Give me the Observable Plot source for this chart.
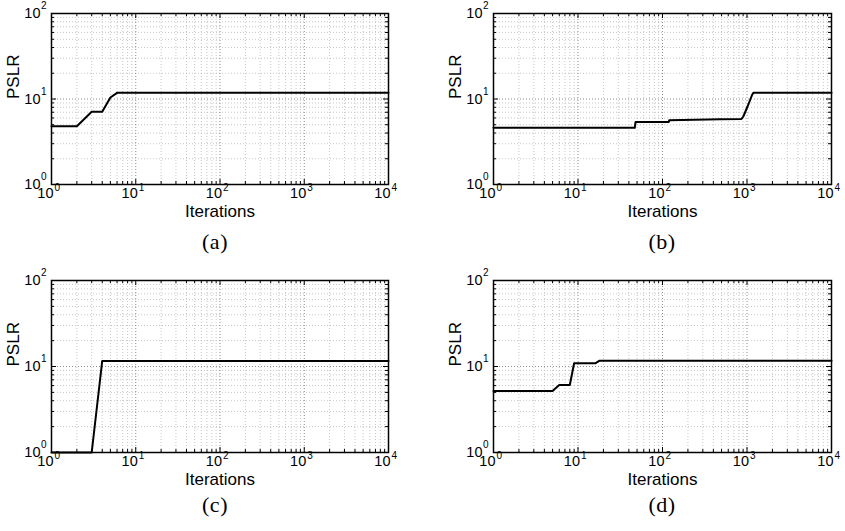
<!DOCTYPE html>
<html>
<head>
<meta charset="utf-8">
<script src="https://cdn.jsdelivr.net/npm/d3@7"></script>
<script src="https://cdn.jsdelivr.net/npm/@observablehq/plot@0.6"></script>
<style>
  html, body { margin: 0; padding: 0; background: #fff; }
  #wrap { position: relative; width: 845px; height: 531px; background: #fff; overflow: hidden; }
  .panel { position: absolute; }
  .cap { position: absolute; font-family: "Liberation Serif", "Times New Roman", serif; font-size: 22px; color: #000; transform: translate(-50%, -50%); white-space: nowrap; letter-spacing: 0.5px; }
</style>
</head>
<body>
<div id="wrap"></div>
<script>
// ---- data ----
const iterA = [1, 2, 3, 4, 5, 6, 10000];
const pslrA = [4.8, 4.8, 7.1, 7.1, 10.4, 11.8, 11.8];

const iterB = [1, 47, 48, 119, 120, 480, 860, 900, 950, 1000, 1050, 1100, 1150, 1190, 10000];
const pslrB = [4.6, 4.6, 5.4, 5.4, 5.65, 5.8, 5.85, 6.2, 7.0, 7.9, 8.9, 10.0, 11.2, 11.8, 11.8];

const iterC = [1, 3, 4, 10000];
const pslrC = [1, 1, 11.6, 11.6];

const iterD = [1, 5, 6, 8, 9, 16, 18, 10000];
const pslrD = [5.2, 5.2, 6.1, 6.1, 10.9, 10.9, 11.7, 11.7];

// ---- ticks ----
const xMajor = [1, 10, 100, 1000, 10000];
const xExp = ["0", "1", "2", "3", "4"];
const xMinor = [2,3,4,5,6,7,8,9, 20,30,40,50,60,70,80,90, 200,300,400,500,600,700,800,900, 2000,3000,4000,5000,6000,7000,8000,9000];
const yMajor = [1, 10, 100];
const yExp = ["0", "1", "2"];
const yMinor = [2,3,4,5,6,7,8,9, 20,30,40,50,60,70,80,90];

const xLabel = "Iterations";
const yLabel = "PSLR";
const captions = ["(a)", "(b)", "(c)", "(d)"];

const FONT = "'Liberation Sans', Arial, Helvetica, sans-serif";

function panel(iters, vals, {width, height, ml, mr, mt, mb}) {
  const data = iters.map((x, i) => ({x, y: vals[i]}));
  const xT = xMajor.map((v, i) => ({v, e: xExp[i]}));
  const yT = yMajor.map((v, i) => ({v, e: yExp[i]}));
  const ph = height - mt - mb;
  const pw = width - ml - mr;
  const majorGrid = {stroke: "#6f6f6f", strokeDasharray: "1,2", strokeWidth: 0.8};
  const minorGrid = {stroke: "#b8b8b8", strokeDasharray: "1,2", strokeWidth: 0.8};
  return Plot.plot({
    width, height,
    marginLeft: ml, marginRight: mr, marginTop: mt, marginBottom: mb,
    style: {fontFamily: FONT, background: "#fff", color: "#000", overflow: "visible"},
    x: {type: "log", domain: [1, 10000], axis: null},
    y: {type: "log", domain: [1, 100], axis: null},
    marks: [
      // grid
      Plot.ruleX(xMinor, {x: d => d, ...minorGrid}),
      Plot.ruleY(yMinor, {y: d => d, ...minorGrid}),
      Plot.ruleX(xMajor.slice(1, -1), {x: d => d, ...majorGrid}),
      Plot.ruleY(yMajor.slice(1, -1), {y: d => d, ...majorGrid}),
      // inward ticks (bottom/top)
      Plot.tickX(xMajor, {x: d => d, insetTop: ph - 5, stroke: "#000"}),
      Plot.tickX(xMajor, {x: d => d, insetBottom: ph - 5, stroke: "#000"}),
      Plot.tickX(xMinor, {x: d => d, insetTop: ph - 3, stroke: "#000"}),
      Plot.tickX(xMinor, {x: d => d, insetBottom: ph - 3, stroke: "#000"}),
      // inward ticks (left/right)
      Plot.tickY(yMajor, {y: d => d, insetRight: pw - 5, stroke: "#000"}),
      Plot.tickY(yMajor, {y: d => d, insetLeft: pw - 5, stroke: "#000"}),
      Plot.tickY(yMinor, {y: d => d, insetRight: pw - 3, stroke: "#000"}),
      Plot.tickY(yMinor, {y: d => d, insetLeft: pw - 3, stroke: "#000"}),
      // data line
      Plot.line(data, {x: "x", y: "y", stroke: "#000", strokeWidth: 2}),
      Plot.frame({stroke: "#000", strokeWidth: 1.5}),
      // x tick labels
      Plot.text(xT, {x: "v", frameAnchor: "bottom", dy: 13, dx: 2, text: () => "10", textAnchor: "end", fontSize: 14.5, fill: "#000"}),
      Plot.text(xT, {x: "v", frameAnchor: "bottom", dy: 6.5, dx: 3, text: "e", textAnchor: "start", fontSize: 10, fill: "#000"}),
      // y tick labels
      Plot.text(yT, {y: "v", frameAnchor: "left", dx: -11, text: () => "10", textAnchor: "end", fontSize: 14.5, fill: "#000"}),
      Plot.text(yT, {y: "v", frameAnchor: "left", dx: -10.5, dy: -7.5, text: "e", textAnchor: "start", fontSize: 10, fill: "#000"}),
      // axis titles
      Plot.text([yLabel], {frameAnchor: "left", dx: -37.5, rotate: -90, text: d => d, fontSize: 17, fill: "#000"}),
      Plot.text([xLabel], {frameAnchor: "bottom", dy: 32, text: d => d, fontSize: 17, fill: "#000"})
    ]
  });
}

const wrap = document.getElementById("wrap");
const layouts = [
  {left: 0,   top: 0,   cfg: {width: 420, height: 228, ml: 51, mr: 32, mt: 13, mb: 44}, it: iterA, v: pslrA, cx: 215, cy: 242},
  {left: 420, top: 0,   cfg: {width: 425, height: 228, ml: 73, mr: 14, mt: 13, mb: 44}, it: iterB, v: pslrB, cx: 662, cy: 242},
  {left: 0,   top: 265, cfg: {width: 420, height: 228, ml: 51, mr: 32, mt: 15, mb: 41}, it: iterC, v: pslrC, cx: 215, cy: 505},
  {left: 420, top: 265, cfg: {width: 425, height: 228, ml: 73, mr: 14, mt: 15, mb: 41}, it: iterD, v: pslrD, cx: 662, cy: 505}
];
layouts.forEach((L, i) => {
  const div = document.createElement("div");
  div.className = "panel";
  div.style.left = L.left + "px";
  div.style.top = L.top + "px";
  div.appendChild(panel(L.it, L.v, L.cfg));
  wrap.appendChild(div);
  const cap = document.createElement("div");
  cap.className = "cap";
  cap.style.left = L.cx + "px";
  cap.style.top = L.cy + "px";
  cap.textContent = captions[i];
  wrap.appendChild(cap);
});
</script>
</body>
</html>
